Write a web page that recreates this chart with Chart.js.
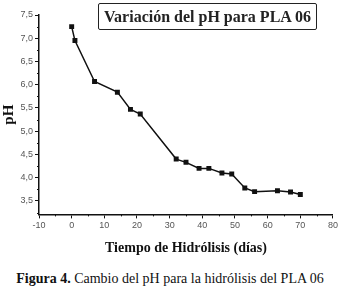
<!DOCTYPE html>
<html>
<head>
<meta charset="utf-8">
<script src="https://cdn.jsdelivr.net/npm/chart.js@4"></script>
<style>
  body { margin: 0; background: #fff; }
  #wrap { position: relative; width: 340px; height: 295px; }
  #box {
    position: absolute; left: 98px; top: 3px; width: 217px; height: 25px;
    border: 1px solid #222; border-radius: 2px;
    font: bold 16px "Liberation Serif", "Times New Roman", "DejaVu Serif", serif; color: #222;
    text-align: center; line-height: 25px;
  }
  #caption {
    position: absolute; left: 0; width: 340px; top: 271px; text-align: center;
    font: 14px "Liberation Serif", "Times New Roman", "DejaVu Serif", serif; color: #111;
  }
</style>
</head>
<body>
<div id="wrap">
  <canvas id="myChart" width="340" height="261"></canvas>
  <div id="box">Variación del pH para PLA 06</div>
  <div id="caption"><b>Figura 4.</b> Cambio del pH para la hidrólisis del PLA 06</div>
</div>
<script>
// datos
var dias = [0, 1, 7, 14, 18, 21, 32, 35, 39, 42, 46, 49, 53, 56, 63, 67, 70];
var ph = [7.25, 6.95, 6.07, 5.84, 5.47, 5.37, 4.40, 4.33, 4.20, 4.20, 4.10, 4.08, 3.78, 3.70, 3.72, 3.69, 3.64];
var xTicks = [-10, 0, 10, 20, 30, 40, 50, 60, 70, 80];
var yTicks = [3.5, 4.0, 4.5, 5.0, 5.5, 6.0, 6.5, 7.0, 7.5];

var serif = '"Liberation Serif", "Times New Roman", "DejaVu Serif", serif';

// ticks menores (entre los mayores)
var minorTicks = {
    id: 'minorTicks',
    afterDraw: function (chart) {
        var c = chart.ctx;
        var xs = chart.scales.x, ys = chart.scales.y;
        c.save();
        c.strokeStyle = '#111';
        c.lineWidth = 1;
        c.beginPath();
        for (var i = 0; i < xTicks.length - 1; i++) {
            var px = Math.round(xs.getPixelForValue((xTicks[i] + xTicks[i + 1]) / 2)) + 0.5;
            c.moveTo(px, xs.top);
            c.lineTo(px, xs.top + 2);
        }
        for (var j = 0; j < yTicks.length; j++) {
            var py = Math.round(ys.getPixelForValue(yTicks[j] - 0.25)) + 0.5;
            if (py > ys.bottom) continue;
            c.moveTo(ys.right, py);
            c.lineTo(ys.right - 2, py);
        }
        c.stroke();
        c.restore();
    }
};

const ctx = document.getElementById('myChart').getContext('2d');
new Chart(ctx, {
    type: 'scatter',
    data: {
        datasets: [{
            data: dias.map(function (d, i) { return { x: d, y: ph[i] }; }),
            showLine: true,
            borderColor: '#111',
            borderWidth: 1.5,
            backgroundColor: '#111',
            pointStyle: 'rect',
            pointRadius: 3.5,
            pointBorderWidth: 0
        }]
    },
    options: {
        responsive: false,
        animation: false,
        layout: { padding: { top: 15, right: 6, left: 0, bottom: 0 } },
        plugins: { legend: { display: false }, tooltip: { enabled: false } },
        scales: {
            x: {
                type: 'linear',
                min: -10,
                max: 80,
                afterBuildTicks: function (s) { s.ticks = xTicks.map(function (v) { return { value: v }; }); },
                border: { color: '#111', width: 1.5 },
                grid: { drawOnChartArea: false, color: '#111', tickLength: 4 },
                ticks: { color: '#555', font: { family: 'Liberation Sans', size: 9 }, padding: 2 },
                title: {
                    display: true,
                    text: 'Tiempo de Hidrólisis (días)',
                    color: '#111',
                    font: { family: serif, size: 14, weight: 'bold' },
                    padding: { top: 7 }
                }
            },
            y: {
                min: 3.21,
                max: 7.5,
                afterBuildTicks: function (s) { s.ticks = yTicks.map(function (v) { return { value: v }; }); },
                afterFit: function (s) { s.width = 39; },
                border: { color: '#111', width: 1.5 },
                grid: { drawOnChartArea: false, color: '#111', tickLength: 4 },
                ticks: {
                    color: '#555',
                    font: { family: 'Liberation Sans', size: 9 },
                    padding: 2,
                    callback: function (v) { return v.toFixed(1).replace('.', ','); }
                },
                title: {
                    display: true,
                    text: 'pH',
                    color: '#111',
                    font: { family: serif, size: 15, weight: 'bold' },
                    padding: 0
                }
            }
        }
    },
    plugins: [minorTicks]
});
</script>
</body>
</html>
